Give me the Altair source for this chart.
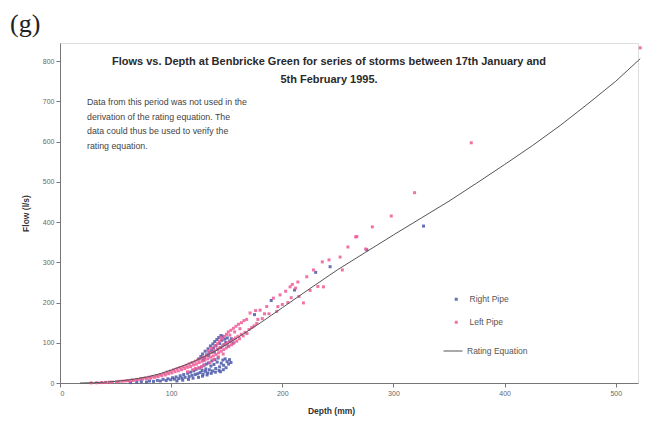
import altair as alt
import pandas as pd

# ---------------- data ----------------
rating_depth = [18, 30, 40, 50, 60, 70, 80, 90, 100, 110, 120, 130, 140, 150, 160, 170, 180, 190,
                200, 225, 250, 275, 300, 325, 350, 375, 400, 425, 450, 475, 500, 522]
rating_flow = [0, 0.8, 2, 4, 7, 11, 16, 23, 32, 42, 53, 66, 80, 96, 113, 131, 149, 168,
               187, 235, 282, 325, 368, 410, 452, 497, 543, 590, 640, 694, 750, 806]

right_depth = [
    63.5, 69, 73.2, 77.8, 80.5, 84.1, 87.6, 90.3, 92.8, 95.5,
    97.1, 99.6, 101.2, 102.9, 104.4, 106.8, 108.1, 109.7, 111.3, 112.6,
    114.9, 116.2, 117.5, 118.8, 120.4, 121.7, 122.5, 123.9, 125.3, 126.1,
    127.4, 128.7, 129.5, 130.8, 131.6, 132.9, 133.7, 134.4, 135.8, 136.6,
    137.2, 138.5, 139.3, 140.1, 141.4, 142.2, 143.6, 144.3, 145.1, 146.5,
    147.2, 148.6, 149.4, 150.3, 151.7, 152.5, 153.8, 146.9, 143.1, 139.8,
    136.1, 132.3, 128.2, 124.6, 119.7, 115.6, 110.4, 105.2, 131.2, 127.9,
    124.8, 126.7, 128.3, 129.9, 130.6, 131.8, 133.2, 134.1, 135.3, 136.4,
    137.5, 138.1, 139.2, 140.4, 141.1, 141.9, 142.8, 143.7, 144.5, 145.6,
    146.3, 147.4, 148.2, 149.1, 150.5, 151.3, 152.6, 154.2, 155.7, 138.9,
    175, 190, 211, 230, 276, 243, 327, 144.8, 133.6, 129.1,
]
right_flow = [
    1, 2, 3.5, 2.5, 5, 4, 6.5, 5, 9, 6,
    10.5, 8, 13, 9.5, 15, 11, 18, 12.5, 21, 14,
    24, 16, 27, 19, 30, 21, 34, 23, 37, 26,
    40, 22, 44, 29, 47, 25, 50, 33, 42, 55,
    30, 46, 58, 36, 52, 62, 40, 28, 49, 57,
    44, 60, 38, 53, 47, 58, 51, 33, 31, 27,
    24, 20, 17, 14, 12, 9, 7, 5, 35, 31,
    60, 66, 72, 63, 79, 70, 85, 76, 92, 81,
    97, 87, 103, 93, 108, 84, 113, 98, 88, 106,
    116, 95, 109, 101, 112, 92, 104, 110, 99, 77,
    170, 205, 231, 275, 331, 289, 390, 118, 68, 57,
]

left_depth = [
    28, 33, 37.5, 41, 44.6, 47.2, 50.8, 53.1, 55.9, 58.4,
    60.7, 62.3, 64.8, 66.1, 68.9, 70.4, 72.6, 74.2, 76.5, 78.1,
    80.3, 81.7, 83.4, 85.2, 86.9, 88.3, 90.1, 91.6, 93.4, 94.8,
    96.3, 97.7, 99.2, 100.6, 102.1, 103.5, 105.2, 106.4, 108.0, 109.3,
    110.8, 112.2, 113.6, 114.9, 116.3, 117.5, 118.9, 120.1, 121.5, 122.7,
    124.0, 125.2, 126.6, 127.8, 129.1, 130.3, 131.7, 132.9, 134.2, 135.4,
    136.8, 137.9, 139.1, 140.3, 141.6, 142.7, 143.9, 145.0, 146.2, 147.3,
    148.5, 149.6, 150.8, 151.9, 153.1, 154.3, 155.5, 156.6, 157.8, 159.0,
    160.2, 161.5, 163.1, 164.8, 166.4, 168.2, 170.1, 172.5, 174.6, 177.0,
    139.5, 141.8, 143.4, 145.7, 147.9, 149.8, 151.4, 153.7, 156.0, 158.3,
    160.6, 163.2, 165.5, 167.9, 144.6, 152.8, 157.1, 161.9, 136.2, 133.4,
    114.7, 119.3, 124.8, 129.6, 134.9, 127.3, 121.9, 138.2, 142.5, 146.8,
    171, 176, 180, 186, 192, 198, 203, 207, 209, 212,
    214, 219, 222, 228, 236, 237, 242, 252, 254, 259,
    266, 267, 275, 281, 298, 319, 370, 522, 182, 188,
    195, 200, 205, 215, 225, 232, 184, 196, 178, 208,
]
left_flow = [
    0.3, 0.6, 1, 1.5, 2, 2.5, 3, 4, 4.5, 5,
    6, 5, 7.5, 6.5, 9, 8, 11, 9.5, 12.5, 11,
    14.5, 12, 16.5, 14, 18.5, 16, 21, 18, 24, 20,
    27, 23, 29.5, 25, 32.5, 28, 35.5, 30, 38.5, 33,
    41, 36, 44, 39, 47.5, 41, 51, 45, 54, 47,
    57, 51, 61, 54, 64, 57, 68, 60, 72, 64,
    76, 67, 80, 71, 84, 75, 88, 79, 92, 83,
    96, 87, 100, 91, 104, 95, 108, 100, 112, 104,
    116, 110, 121, 117, 126, 123, 133, 138, 142, 148,
    92, 98, 104, 110, 116, 121, 127, 131, 136, 141,
    146, 150, 155, 158, 114, 119, 127, 135, 86, 80,
    28, 33, 38, 45, 50, 40, 36, 58, 65, 72,
    174, 180, 181, 190, 211, 219, 228, 239, 245, 236,
    251, 199, 264, 281, 301, 239, 306, 313, 281, 338,
    363, 364, 333, 388, 415, 473, 597, 833, 160, 172,
    178, 195, 200, 215, 230, 240, 172, 190, 158, 212,
]

series_names = ["Right Pipe", "Left Pipe", "Rating Equation"]

chart_title = ("Flows vs. Depth at Benbricke Green for series of storms between 17th January and\n"
               "5th February 1995.")
note_text = ("Data from this period was not used in the\n"
             "derivation of the rating equation. The\n"
             "data could thus be used to verify the\n"
             "rating equation.")
panel_label = "(g)"

# ---------------- tables ----------------
points = pd.concat([
    pd.DataFrame({"depth": right_depth, "flow": right_flow, "series": series_names[0]}),
    pd.DataFrame({"depth": left_depth, "flow": left_flow, "series": series_names[1]}),
], ignore_index=True)
rating = pd.DataFrame({"depth": rating_depth, "flow": rating_flow, "series": series_names[2]})

x_scale = alt.Scale(domain=[0, 520], nice=False, zero=True)
y_scale = alt.Scale(domain=[0, 845], nice=False, zero=True)

x_axis = alt.Axis(values=[0, 100, 200, 300, 400, 500], title="Depth (mm)", grid=False,
                  labelFontSize=7, labelColor="#666", tickColor="#777", domainColor="#777",
                  tickSize=4, titleFontSize=8.5, titleFontWeight="bold", titleColor="#333",
                  titlePadding=10, titleX=271, labelFont="Liberation Sans", titleFont="Liberation Sans")
y_axis = alt.Axis(values=[0, 100, 200, 300, 400, 500, 600, 700, 800], title="Flow (l/s)", grid=False,
                  labelFontSize=7, labelColor="#666", tickColor="#777", domainColor="#777",
                  tickSize=4, titleFontSize=8.5, titleFontWeight="bold", titleColor="#333",
                  titlePadding=12, labelFont="Liberation Sans", titleFont="Liberation Sans")

pts = alt.Chart(points).mark_point(shape="square", filled=True, size=9, opacity=0.85).encode(
    x=alt.X("depth:Q", scale=x_scale, axis=x_axis),
    y=alt.Y("flow:Q", scale=y_scale, axis=y_axis),
    color=alt.Color("series:N",
                    scale=alt.Scale(domain=series_names[:2], range=["#4a58a8", "#ee5a96"]),
                    legend=alt.Legend(orient="none", legendX=392, legendY=252, title=None,
                                      symbolType="square", symbolSize=9, labelFontSize=8.5,
                                      labelColor="#555", rowPadding=14, labelOffset=9,
                                      labelFont="Liberation Sans")),
)

line = alt.Chart(rating).mark_line(strokeWidth=1, color="#555").encode(
    x=alt.X("depth:Q", scale=x_scale, axis=x_axis),
    y=alt.Y("flow:Q", scale=y_scale, axis=y_axis),
    color=alt.Color("series:N",
                    scale=alt.Scale(domain=[series_names[2]], range=["#555555"]),
                    legend=alt.Legend(orient="none", legendX=383, legendY=298, title=None,
                                      symbolType="stroke", symbolSize=361, symbolStrokeWidth=1,
                                      labelFontSize=8.5, labelColor="#555", labelOffset=4,
                                      labelFont="Liberation Sans")),
)

title_txt = alt.Chart(pd.DataFrame({"t": [chart_title]})).mark_text(
    align="center", baseline="middle", lineBreak="\n", lineHeight=18,
    font="Liberation Sans", fontSize=11, fontWeight="bold", color="#2a2a2a",
).encode(x=alt.value(269), y=alt.value(19), text="t:N")

note_txt = alt.Chart(pd.DataFrame({"t": [note_text]})).mark_text(
    align="left", baseline="middle", lineBreak="\n", lineHeight=14.5,
    font="Liberation Sans", fontSize=8.8, color="#444",
).encode(x=alt.value(27), y=alt.value(59), text="t:N")

label_txt = alt.Chart(pd.DataFrame({"t": [panel_label]})).mark_text(
    align="left", baseline="middle", font="Liberation Serif", fontSize=26, color="#222",
).encode(x=alt.value(-50), y=alt.value(-19), text="t:N")

chart = alt.layer(pts, line, title_txt, note_txt, label_txt).resolve_scale(
    color="independent"
).properties(
    width=578, height=340,
    autosize=alt.AutoSizeParams(type="none"),
    padding={"left": 52, "top": 35, "right": 16, "bottom": 35},
).configure_view(stroke=None).configure(background="white")

chart.save("out.html", embed_options={"renderer": "svg", "actions": False})
